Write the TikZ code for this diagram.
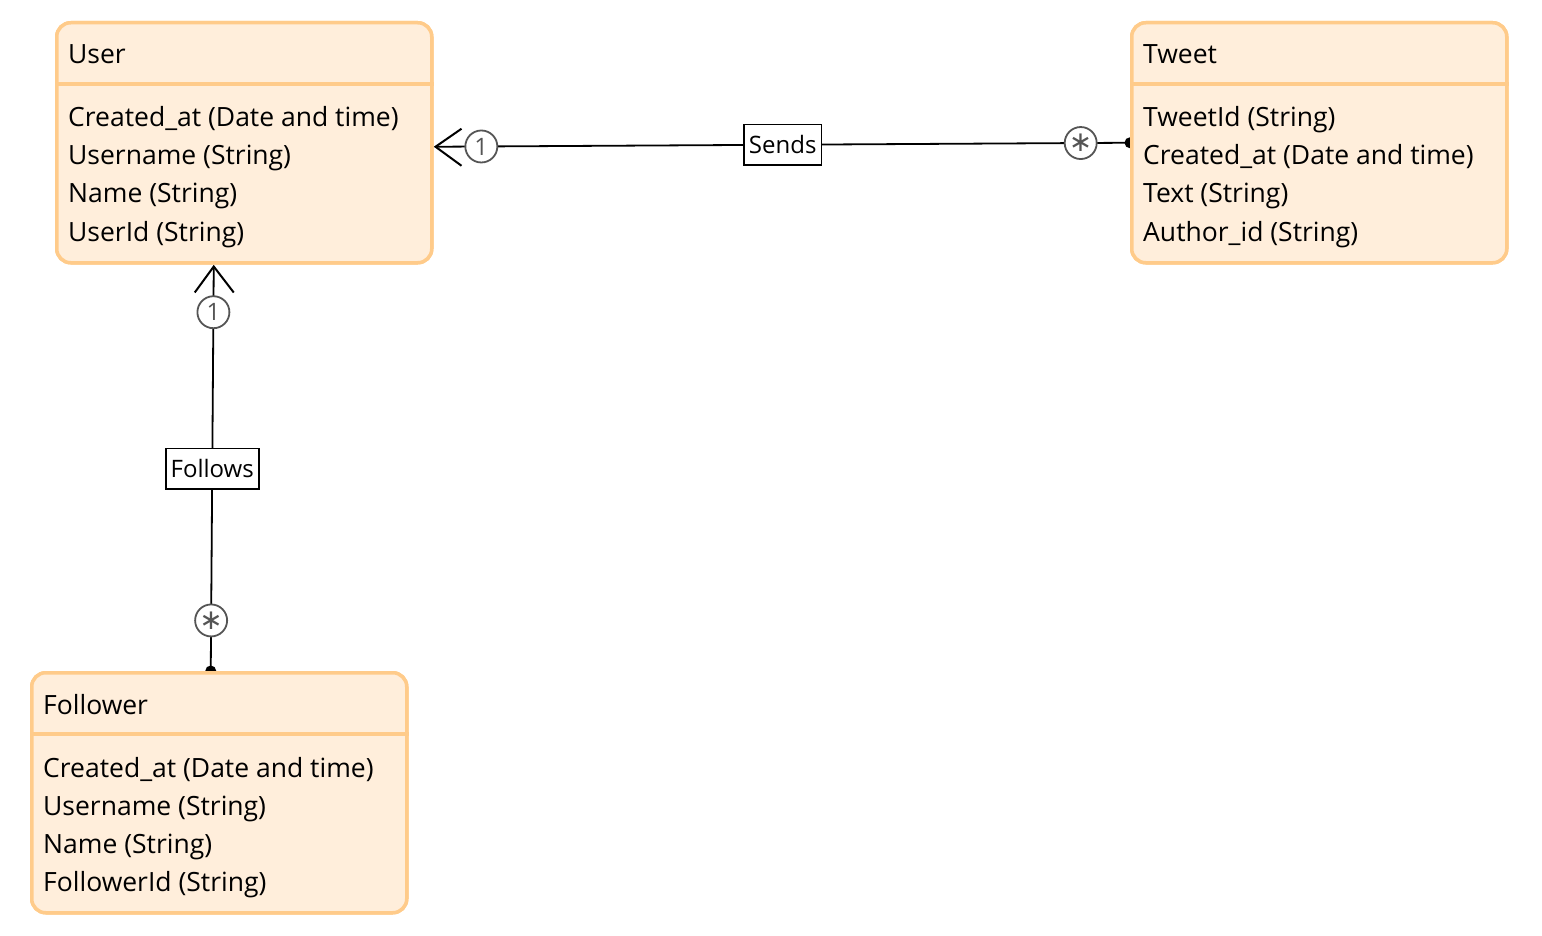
\documentclass[tikz,border=0pt]{standalone}
\usepackage{fontspec}
\setmainfont{Open Sans}
\newfontfamily\symfont{DejaVu Sans}
\usetikzlibrary{positioning}

\definecolor{boxline}{HTML}{FFCB8A}
\definecolor{boxfill}{HTML}{FFEEDB}
\definecolor{multgrey}{HTML}{555555}

\begin{document}
\begin{tikzpicture}[%
	x=1pt, y=-1pt,            % one unit is one pixel of the drawing
	every node/.style={font=\fontsize{26.5}{38}\selectfont},
	]
	% -------------------------------------------------
	% Entity boxes and connector styles
	\tikzset{
		entity/.style={draw=boxline, fill=boxfill, line width=3.5pt, rounded corners=14pt,
			minimum width=375pt, minimum height=240pt, anchor=north west, inner sep=0pt},
		divider/.style={draw=boxline, line width=3.5pt},
		title/.style={anchor=base west, inner sep=0pt},
		attr/.style={anchor=base west, inner sep=0pt},
		link/.style={draw, line width=1.8pt},
		mult/.style={circle, draw=multgrey, line width=1.8pt, fill=white, minimum size=32pt,
			inner sep=0pt, text=multgrey, font=\fontsize{24}{24}\selectfont},
		many/.style={mult, font=\symfont\fontsize{28}{28}\selectfont},
		rel/.style={draw, fill=white, line width=1.8pt, inner xsep=5pt, inner ysep=11pt,
			font=\fontsize{24}{26}\selectfont},
		foot/.style={line width=2pt},
		ball/.style={fill=black}
	}
	\useasboundingbox (0,0) rectangle (1542,936);

	\node[entity] (user) at (55,21) {};
	\node[entity] (tweet) at (1130,21) {};
	\node[entity] (follower) at (30,671) {};

	% connector end points on the boxes
	\coordinate (sendsU) at ([xshift=2]user.east);
	\coordinate (sendsU) at ([yshift=-4]sendsU);
	\coordinate (sendsT) at (tweet.west);
	\coordinate (folU) at ([xshift=-30.5, yshift=-2]user.south);
	\coordinate (folF) at ([xshift=-8.5]follower.north);

	% Sends: User 1 -- * Tweet
	\fill[ball] (sendsT) circle (5.5);
	\draw[link] (sendsU) -- node[rel] (sends) {Sends}
		node[mult, pos=0.066] (sendsOne) {1}
		node[many, pos=0.929] (sendsMany) {∗} (sendsT);
	\draw[foot] ([shift={(26,-18)}]sendsU) -- (sendsU) -- ([shift={(26,19)}]sendsU);

	% Follows: User 1 -- * Follower
	\fill[ball] (folF) circle (5.5);
	\draw[link] (folU) -- node[rel] (follows) {Follows}
		node[mult, pos=0.113] (folOne) {1}
		node[many, pos=0.875] (folMany) {∗} (folF);
	\draw[foot] ([shift={(-19,26)}]folU) -- (folU) -- ([shift={(20,26)}]folU);

	% boxes again on top so the balls show only half
	\node[entity] (userTop) at (55,21) {};
	\node[entity] (tweetTop) at (1130,21) {};
	\node[entity] (followerTop) at (30,671) {};
	\draw[divider] ([yshift=-63]user.north west) -- ([yshift=-63]user.north east);
	\draw[divider] ([yshift=-63]tweet.north west) -- ([yshift=-63]tweet.north east);
	\draw[divider] ([yshift=-63]follower.north west) -- ([yshift=-63]follower.north east);

	% titles
	\node[title] (userT) at ([xshift=13, yshift=-43]user.north west) {User};
	\node[title] (tweetT) at ([xshift=13, yshift=-43]tweet.north west) {Tweet};
	\node[title] (followerT) at ([xshift=13, yshift=-43]follower.north west) {Follower};

	% attributes
	\foreach \t [count=\i] in {Created\_at (Date and time), Username (String), Name (String), UserId (String)}
		\node[attr] (userA\i) at ([xshift=13, yshift=-68-38*\i]user.north west) {\t};
	\foreach \t [count=\i] in {TweetId (String), Created\_at (Date and time), Text (String), Author\_id (String)}
		\node[attr] (tweetA\i) at ([xshift=13, yshift=-68-38*\i]tweet.north west) {\t};
	\foreach \t [count=\i] in {Created\_at (Date and time), Username (String), Name (String), FollowerId (String)}
		\node[attr] (followerA\i) at ([xshift=13, yshift=-68-38*\i]follower.north west) {\t};

\end{tikzpicture}
\end{document}
